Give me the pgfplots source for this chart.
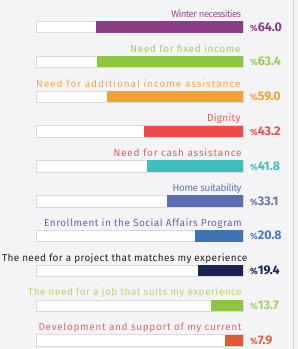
\documentclass[border=0pt]{standalone}
\usepackage{pgfplots}
\pgfplotsset{compat=1.18}
\usepackage{fontspec}
\setmainfont{Fira Sans}
\definecolor{bg}{HTML}{F4F4F6}
\definecolor{cA}{HTML}{8B3D87}
\definecolor{cB}{HTML}{8DC63F}
\definecolor{cC}{HTML}{F5A031}
\definecolor{cD}{HTML}{EE4B4B}
\definecolor{cE}{HTML}{3CBFBE}
\definecolor{cF}{HTML}{5D6DB4}
\definecolor{cG}{HTML}{3E74B5}
\definecolor{cH}{HTML}{1B2452}
\definecolor{cI}{HTML}{8CC640}
\definecolor{cJ}{HTML}{E05A38}
\definecolor{lA}{HTML}{9A4F98}
\definecolor{lB}{HTML}{A3CE5A}
\definecolor{lC}{HTML}{F5A84A}
\definecolor{lD}{HTML}{E85A5A}
\definecolor{lE}{HTML}{E06262}
\definecolor{lF}{HTML}{6B72B0}
\definecolor{lG}{HTML}{5D6AA8}
\definecolor{lH}{HTML}{222222}
\definecolor{lI}{HTML}{B5D870}
\definecolor{lJ}{HTML}{E06A6A}
\definecolor{vB}{HTML}{9ACB50}
\definecolor{vE}{HTML}{40BFBF}
\definecolor{vF}{HTML}{6A72B2}
\definecolor{vG}{HTML}{4A7CC0}
\definecolor{vI}{HTML}{A8D060}
\definecolor{vJ}{HTML}{E06040}
\newcommand{\lab}[2]{\fontsize{#1bp}{12bp}\selectfont\addfontfeatures{LetterSpace=#2}}
\begin{document}
\begin{tikzpicture}
\begin{axis}[
  at={(0,0)}, anchor=south west,
  scale only axis, width=298bp, height=349bp,
  axis lines=none, ticks=none,
  axis background/.style={fill=bg},
  x dir=reverse, y dir=reverse,
  xmin=-23.91, xmax=105.65,
  ymin=-0.773, ymax=9.25,
  clip=false,
  every axis plot/.append style={xbar, bar shift=0pt, bar width=0.33},
]
\draw[gray!35, line width=0.8bp] (rel axis cs:0.983,0) -- (rel axis cs:0.983,1);
% white tracks
\addplot[fill=white, draw=gray!30] coordinates {(90,0) (90,1) (90,2) (90,3) (90,4) (90,5) (90,6) (90,7) (90,8) (90,9)};
\addplot[fill=cA, draw=none] coordinates {(64.0,0)};
\addplot[fill=cB, draw=none] coordinates {(63.4,1)};
\addplot[fill=cC, draw=none] coordinates {(59.0,2)};
\addplot[fill=cD, draw=none] coordinates {(43.2,3)};
\addplot[fill=cE, draw=none] coordinates {(41.8,4)};
\addplot[fill=cF, draw=none] coordinates {(33.1,5)};
\addplot[fill=cG, draw=none] coordinates {(20.8,6)};
\addplot[fill=cH, draw=none] coordinates {(19.4,7)};
\addplot[fill=cI, draw=none] coordinates {(13.7,8)};
\addplot[fill=cJ, draw=none] coordinates {(7.9,9)};
% category labels
\begin{scope}[every node/.style={anchor=base east, yshift=9.5bp, inner sep=0pt}]
\node[text=lA, font=\lab{9.6}{-6}] at (axis cs:0.7,0) {Winter necessities};
\node[text=lB, font=\lab{10}{6.5}] at (axis cs:1.0,1) {Need for fixed income};
\node[text=lC, font=\lab{10}{9.5}] at (axis cs:1.0,2) {Need for additional income assistance};
\node[text=lD, font=\lab{10}{3}] at (axis cs:1.0,3) {Dignity};
\node[text=lE, font=\lab{10}{8}] at (axis cs:0.5,4) {Need for cash assistance};
\node[text=lF, font=\lab{10}{-4}] at (axis cs:0.5,5) {Home suitability};
\node[text=lG, font=\lab{10}{5}] at (axis cs:0.5,6) {Enrollment in the Social Affairs Program};
\node[text=lH, font=\lab{10}{3.7}] at (axis cs:-2.0,7) {The need for a project that matches my experience};
\node[text=lI, font=\lab{10}{5}] at (axis cs:0.5,8) {The need for a job that suits my experience};
\node[text=lJ, font=\lab{10}{6.8}] at (axis cs:0.5,9) {Development and support of my current};
\end{scope}
% value labels
\begin{scope}[every node/.style={anchor=west, font=\fontsize{12.5bp}{13bp}\selectfont\bfseries, inner sep=0pt}]
\node[text=cA] at (axis cs:-3.0,0) {{\small\%}64.0};
\node[text=vB] at (axis cs:-3.0,1) {{\small\%}63.4};
\node[text=cC] at (axis cs:-3.0,2) {{\small\%}59.0};
\node[text=cD] at (axis cs:-3.0,3) {{\small\%}43.2};
\node[text=vE] at (axis cs:-3.0,4) {{\small\%}41.8};
\node[text=vF] at (axis cs:-3.0,5) {{\small\%}33.1};
\node[text=vG] at (axis cs:-3.0,6) {{\small\%}20.8};
\node[text=cH] at (axis cs:-3.0,7) {{\small\%}19.4};
\node[text=vI] at (axis cs:-3.0,8) {{\small\%}13.7};
\node[text=vJ] at (axis cs:-3.0,9) {{\small\%}7.9};
\end{scope}
\end{axis}
\pgfresetboundingbox
\path (0,0) rectangle (298bp,349bp);
\end{tikzpicture}
\end{document}
